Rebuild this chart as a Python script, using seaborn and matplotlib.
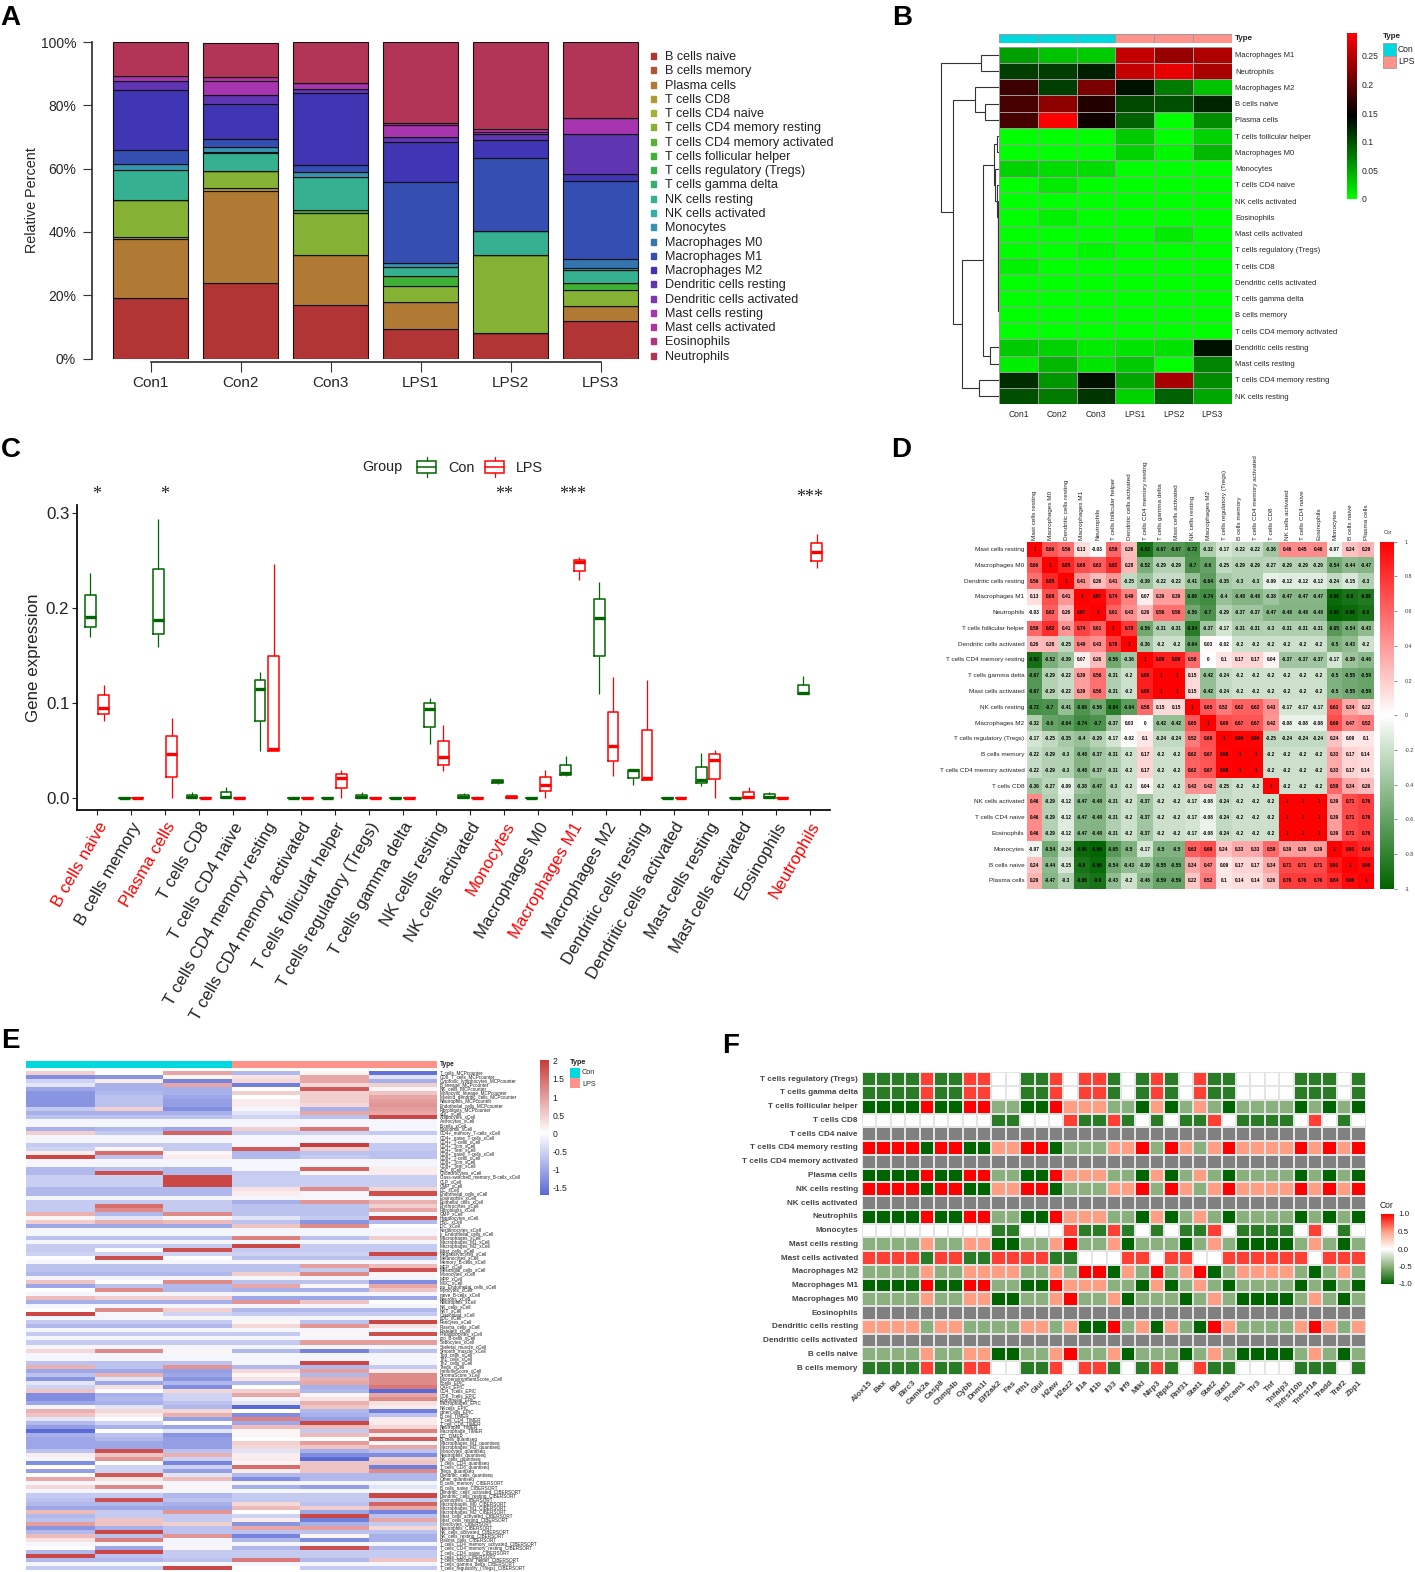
import numpy as np
import pandas as pd
import matplotlib
matplotlib.use("Agg")
import matplotlib.pyplot as plt
from matplotlib.colors import LinearSegmentedColormap, ListedColormap, TwoSlopeNorm
from matplotlib.patches import Rectangle
import seaborn as sns

W, H = 1415, 1572

# ---- A: relative percent per sample
samples = ["Con1", "Con2", "Con3", "LPS1", "LPS2", "LPS3"]
cells_a = ["B cells naive", "B cells memory", "Plasma cells", "T cells CD8", "T cells CD4 naive",
           "T cells CD4 memory resting", "T cells CD4 memory activated", "T cells follicular helper",
           "T cells regulatory (Tregs)", "T cells gamma delta", "NK cells resting", "NK cells activated",
           "Monocytes", "Macrophages M0", "Macrophages M1", "Macrophages M2", "Dendritic cells resting",
           "Dendritic cells activated", "Mast cells resting", "Mast cells activated", "Eosinophils", "Neutrophils"]
colors_a = ["#B13535", "#B1553A", "#B07A35", "#B09A35", "#A5B035", "#85B235", "#5CB035", "#3DB035",
            "#35B04D", "#35B070", "#35B090", "#35B0A8", "#3595B0", "#3575B0", "#354EB2", "#4035B2",
            "#5F35B2", "#7F35B2", "#A835B0", "#B035A0", "#B03580", "#B23558"]
con1 = [19.2, 0, 18.6, 0.7, 0, 11.5, 0, 0, 0, 0, 9.4, 0, 1.9, 0, 4.5, 19.0, 2.8, 0, 1.5, 0, 0, 10.9]
con2 = [23.7, 0, 29.2, 1.1, 0, 5.1, 0, 0, 0, 0, 5.7, 0.5, 1.5, 0, 2.6, 11.0, 2.9, 0, 4.5, 1.0, 0, 11.0]
con3 = [17.0, 0, 15.7, 0, 0, 13.3, 0, 0.8, 0, 0, 10.4, 0, 1.6, 0, 2.2, 22.8, 1.4, 0, 2.0, 0, 0, 12.8]
lps1 = [9.4, 0, 8.4, 0, 0, 5.2, 0, 3.0, 0, 0, 2.9, 0, 1.3, 0, 25.5, 12.7, 1.7, 0, 3.8, 0.4, 0, 25.7]
lps2 = [8.2, 0, 0, 0, 0, 24.5, 0, 0, 0, 0, 7.6, 0, 0, 0, 23.1, 5.5, 1.9, 0, 0.9, 0.7, 0, 27.6]
lps3 = [12.0, 0, 4.6, 0, 0, 5.0, 0, 2.3, 0, 0, 4.1, 0, 0.5, 3.0, 24.5, 2.2, 12.6, 0, 5.1, 0, 0, 24.1]

# ---- B: cell fractions, pheatmap order
rows_b = ["Macrophages M1", "Neutrophils", "Macrophages M2", "B cells naive", "Plasma cells",
          "T cells follicular helper", "Macrophages M0", "Monocytes", "T cells CD4 naive", "NK cells activated",
          "Eosinophils", "Mast cells activated", "T cells regulatory (Tregs)", "T cells CD8",
          "Dendritic cells activated", "T cells gamma delta", "B cells memory", "T cells CD4 memory activated",
          "Dendritic cells resting", "Mast cells resting", "T cells CD4 memory resting", "NK cells resting"]
vals_b = [[.055, .035, .03, .255, .23, .245],
          [.11, .11, .128, .257, .276, .241],
          [.18, .11, .215, .135, .075, .035],
          [.185, .225, .165, .105, .10, .125],
          [.185, .29, .155, .09, .0, .065],
          [0, 0, 0, .03, 0, .025],
          [0, 0, 0, .025, .005, .04],
          [.025, .02, .02, 0, 0, 0],
          [0, .012, .002, 0, 0, 0],
          [0, 0, 0, 0, 0, 0],
          [0, .008, 0, 0, 0, 0],
          [0, 0, 0, 0, .012, 0],
          [.002, 0, .006, 0, 0, 0],
          [.008, 0, 0, 0, 0, 0],
          [0, 0, 0, 0, 0, 0],
          [0, 0, 0, 0, 0, 0],
          [0, 0, 0, 0, 0, 0],
          [0, 0, 0, 0, 0, 0],
          [.03, .025, .012, .015, .018, .135],
          [.01, .04, .015, .03, 0, .07],
          [.12, .06, .135, .05, .24, .065],
          [.10, .075, .115, .025, .09, .05]]
# merge heights of the row dendrogram: (height, left, right)
den_chain = (5, 8, (4.5, 9, (4, 10, (3.5, 11, (3, 12, (2.5, 13, (2, 14, (1.5, 15, (1, 16, 17)))))))))
den_h = (15, (5, 5, 6), (13, 7, den_chain))
den_d = (110, (47, den_h, (28, 18, 19)), (60, 20, 21))
den_c = (73, 2, (42, 3, 4))
den_b = (173, (55, 0, 1), (138, den_c, den_d))

# ---- C: min, q1, median, q3, max per cell type
cells_c = ["B cells naive", "B cells memory", "Plasma cells", "T cells CD8", "T cells CD4 naive",
           "T cells CD4 memory resting", "T cells CD4 memory activated", "T cells follicular helper",
           "T cells regulatory (Tregs)", "T cells gamma delta", "NK cells resting", "NK cells activated",
           "Monocytes", "Macrophages M0", "Macrophages M1", "Macrophages M2", "Dendritic cells resting",
           "Dendritic cells activated", "Mast cells resting", "Mast cells activated", "Eosinophils", "Neutrophils"]
box_con = [[.169, .18, .191, .214, .237], [0, 0, 0, 0, 0], [.159, .173, .187, .241, .294],
           [0, .0005, .001, .003, .006], [0, 0, .001, .006, .012], [.049, .081, .115, .124, .133],
           [0, 0, 0, 0, 0], [0, 0, 0, 0, 0], [0, 0, .001, .003, .006], [0, 0, 0, 0, 0],
           [.057, .075, .094, .10, .105], [0, 0, .001, .003, .005], [.015, .016, .0175, .019, .02],
           [0, 0, 0, 0, 0], [.023, .024, .026, .035, .044], [.11, .15, .19, .209, .227],
           [.014, .021, .029, .03, .03], [0, 0, 0, 0, 0], [.013, .016, .019, .033, .047],
           [0, 0, 0, 0, 0], [0, 0, .001, .004, .006], [.109, .109, .111, .119, .128]]
box_lps = [[.081, .088, .095, .108, .119], [0, 0, 0, 0, 0], [0, .022, .046, .065, .084],
           [0, 0, 0, 0, 0], [0, 0, 0, 0, 0], [.05, .05, .052, .149, .246],
           [0, 0, 0, 0, 0], [0, .0105, .021, .0256, .03], [0, 0, 0, 0, 0], [0, 0, 0, 0, 0],
           [.028, .035, .043, .06, .077], [0, 0, 0, 0, 0], [0, 0, .001, .002, .003],
           [0, .007, .014, .022, .03], [.23, .239, .248, .251, .254], [.023, .039, .055, .091, .127],
           [.019, .019, .021, .072, .124], [0, 0, 0, 0, 0], [0, .02, .04, .046, .051],
           [0, 0, .001, .006, .012], [0, 0, 0, 0, 0], [.242, .25, .259, .268, .278]]
sig_c = {"B cells naive": "*", "Plasma cells": "*", "Monocytes": "**", "Macrophages M1": "***", "Neutrophils": "***"}

# ---- D: correlation of cell types
rows_d = ["Mast cells resting", "Macrophages M0", "Dendritic cells resting", "Macrophages M1", "Neutrophils",
          "T cells follicular helper", "Dendritic cells activated", "T cells CD4 memory resting",
          "T cells gamma delta", "Mast cells activated", "NK cells resting", "Macrophages M2",
          "T cells regulatory (Tregs)", "B cells memory", "T cells CD4 memory activated", "T cells CD8",
          "NK cells activated", "T cells CD4 naive", "Eosinophils", "Monocytes", "B cells naive", "Plasma cells"]
vals_d = [[1, .66, .56, .13, -.03, .59, .26, -.92, -.67, -.67, -.72, -.32, -.17, -.22, -.22, -.36, .46, .45, .46, -.07, .24, .29],
          [.66, 1, .85, .68, .63, .82, .28, -.52, -.29, -.29, -.7, -.6, -.25, -.29, -.29, -.27, -.29, -.29, -.29, -.54, -.44, -.47],
          [.56, .85, 1, .41, .26, .41, -.25, -.39, -.22, -.22, -.41, -.64, -.35, -.3, -.3, -.09, -.12, -.12, -.12, -.24, -.15, -.3],
          [.13, .68, .41, 1, .97, .74, .49, .07, .39, .39, -.69, -.74, -.4, -.48, -.48, -.38, -.47, -.47, -.47, -.96, -.9, -.86],
          [-.03, .63, .26, .97, 1, .61, .43, .26, .56, .56, -.56, -.7, -.29, -.37, -.37, -.47, -.48, -.48, -.48, -.99, -.96, -.9],
          [.59, .82, .41, .74, .61, 1, .78, -.56, -.31, -.31, -.84, -.37, -.17, -.31, -.31, -.3, -.31, -.31, -.31, -.65, -.54, -.43],
          [.26, .28, -.25, .49, .43, .78, 1, -.36, -.2, -.2, -.64, .03, -.02, -.2, -.2, -.2, -.2, -.2, -.2, -.5, -.43, -.2],
          [-.92, -.52, -.39, .07, .26, -.56, -.36, 1, .88, .88, .58, 0, .1, .17, .17, .04, -.37, -.37, -.37, -.17, -.39, -.46],
          [-.67, -.29, -.22, .39, .56, -.31, -.2, .88, 1, 1, .15, -.42, -.24, -.2, -.2, -.2, -.2, -.2, -.2, -.5, -.55, -.59],
          [-.67, -.29, -.22, .39, .56, -.31, -.2, .88, 1, 1, .15, -.42, -.24, -.2, -.2, -.2, -.2, -.2, -.2, -.5, -.55, -.59],
          [-.72, -.7, -.41, -.69, -.56, -.84, -.64, .58, .15, .15, 1, .65, .52, .62, .62, .43, -.17, -.17, -.17, .63, .34, .22],
          [-.32, -.6, -.64, -.74, -.7, -.37, .03, 0, -.42, -.42, .65, 1, .69, .67, .67, .42, -.08, -.08, -.08, .69, .47, .52],
          [-.17, -.25, -.35, -.4, -.29, -.17, -.02, .1, -.24, -.24, .52, .69, 1, .98, .98, -.25, -.24, -.24, -.24, .24, .09, .1],
          [-.22, -.29, -.3, -.48, -.37, -.31, -.2, .17, -.2, -.2, .62, .67, .98, 1, 1, -.2, -.2, -.2, -.2, .33, .17, .14],
          [-.22, -.29, -.3, -.48, -.37, -.31, -.2, .17, -.2, -.2, .62, .67, .98, 1, 1, -.2, -.2, -.2, -.2, .33, .17, .14],
          [-.36, -.27, -.09, -.38, -.47, -.3, -.2, .04, -.2, -.2, .43, .42, -.25, -.2, -.2, 1, -.2, -.2, -.2, .59, .34, .26],
          [.46, -.29, -.12, -.47, -.48, -.31, -.2, -.37, -.2, -.2, -.17, -.08, -.24, -.2, -.2, -.2, 1, 1, 1, .39, .71, .76],
          [.46, -.29, -.12, -.47, -.48, -.31, -.2, -.37, -.2, -.2, -.17, -.08, -.24, -.2, -.2, -.2, 1, 1, 1, .39, .71, .76],
          [.46, -.29, -.12, -.47, -.48, -.31, -.2, -.37, -.2, -.2, -.17, -.08, -.24, -.2, -.2, -.2, 1, 1, 1, .39, .71, .76],
          [-.07, -.54, -.24, -.96, -.99, -.65, -.5, -.17, -.5, -.5, .63, .69, .24, .33, .33, .59, .39, .39, .39, 1, .91, .84],
          [.24, -.44, -.15, -.9, -.96, -.54, -.43, -.39, -.55, -.55, .34, .47, .09, .17, .17, .34, .71, .71, .71, .91, 1, .96],
          [.29, -.47, -.3, -.86, -.9, -.43, -.2, -.46, -.59, -.59, .22, .52, .1, .14, .14, .26, .76, .76, .76, .84, .96, 1]]

# ---- E: scores per method
names_mcp = ["T_cells", "CD8_T_cells", "Cytotoxic_lymphocytes", "B_lineage", "NK_cells", "Monocytic_lineage",
             "Myeloid_dendritic_cells", "Neutrophils", "Endothelial_cells", "Fibroblasts"]
vals_mcp = [[.5, 0, .9, -.8, .1, -1.6], [-1.3, -1.2, .1, .3, .9, -.3], [-.5, .2, -1.4, .4, .9, -.9],
            [-.3, -.9, .9, -1.45, .4, .5], [-1, -.9, -.9, 0, 1.7, .1], [-1.2, -.8, -.9, .5, .5, .6],
            [-1.2, -.7, -1, 0, .5, .9], [-1.2, -.7, -1.1, .2, .5, 1.0], [-1.2, -.7, -1.1, .2, .4, 1.1],
            [-.6, .5, -1.3, -.1, -.9, 1.0]]
names_xcell = ["aDC", "Adipocytes", "Astrocytes", "B-cells", "Basophils", "CD4+_memory_T-cells", "CD4+_naive_T-cells",
               "CD4+_T-cells", "CD4+_Tcm", "CD4+_Tem", "CD8+_naive_T-cells", "CD8+_T-cells", "CD8+_Tcm", "CD8+_Tem",
               "cDC", "Chondrocytes", "Class-switched_memory_B-cells", "CLP", "CMP", "DC", "Endothelial_cells",
               "Eosinophils", "Epithelial_cells", "Erythrocytes", "Fibroblasts", "GMP", "Hepatocytes", "HSC", "iDC",
               "Keratinocytes", "ly_Endothelial_cells", "Macrophages", "Macrophages_M1", "Macrophages_M2", "Mast_cells",
               "Megakaryocytes", "Melanocytes", "Memory_B-cells", "MEP", "Mesangial_cells", "Monocytes", "MPP", "MSC",
               "mv_Endothelial_cells", "Myocytes", "naive_B-cells", "Neurons", "Neutrophils", "NK_cells", "NKT",
               "Osteoblast", "pDC", "Pericytes", "Plasma_cells", "Platelets", "Preadipocytes", "pro_B-cells", "Sebocytes",
               "Skeletal_muscle", "Smooth_muscle", "Tgd_cells", "Th1_cells", "Th2_cells", "Tregs", "ImmuneScore",
               "StromaScore", "MicroenvironmentScore"]
vals_xcell = [[-.9, -.9, -.9, -.3, .9, .9], [-.7, -.7, -.7, -.5, -.7, 1.9], [-.1, -.1, -.1, -.1, -.1, -.1],
              [-.1, -.1, -.1, -.1, -.1, -.1], [-.9, -.8, -1, .5, 1.4, -.1], [.5, -.6, 1.6, -.6, -.5, -.6],
              [-.1, -.1, -.1, -.1, -.1, -.1], [-.1, -.1, -.1, -.1, -.1, -.1], [-.6, -.6, -.6, -.1, 2, -.6],
              [-.5, .1, -.6, 1.7, .5, -.6], [.2, 1.5, .1, -.8, -.7, -.7], [1.9, -.7, .2, -.8, -.6, -.7],
              [-.1, -.1, -.1, -.1, -.1, -.1], [-.1, -.1, -.1, -.1, -.1, -.1], [-.8, -.7, -.8, -.1, 1.6, .2],
              [-.8, 1.8, -.8, -.6, .1, .2], [-.55, -.55, 1.9, -.55, -.55, -.55], [-.55, -.55, 1.9, -.55, -.55, -.55],
              [-.55, -.55, 1.9, -.55, -.55, -.55], [-.8, -.8, -.8, .3, 1.2, .4], [-.8, -.8, -.8, .2, -.1, 1.8],
              [-.1, -.1, -.1, -.1, -.1, -.1], [-.6, -.6, -.6, -.9, 1.1, .8], [-.6, 1.5, -.6, -.7, -.7, .5],
              [-.6, 1.2, -.6, -.7, -.7, .9], [.8, -.8, 1.2, -.7, -.7, -.1], [.1, -.3, .1, -.3, -.6, 1.9],
              [.5, .8, .7, -.7, -1.2, -.8], [-1, -1, -1, .6, 1.2, 0], [-.1, -.1, -.1, -.1, -.1, -.1],
              [-.1, -.1, -.1, -.1, -.1, -.1], [-.7, -.7, -.7, 1.3, -.7, .5], [-.1, -.1, -.1, -.1, -.1, -.1],
              [-.6, -.6, -.6, 1.9, -.6, -.6], [-.6, 0, 1.8, -.6, -.6, -.6], [-.5, -.5, -.5, -.5, -.5, 1.9],
              [0, 1.8, 0, -.7, -.7, -.7], [-.1, -.1, -.1, -.1, -.1, -.1], [-.7, -.7, -.7, -.7, 1.0, .7],
              [-.7, -.7, -.7, -.7, -.6, 1.8], [-.8, -.8, -.8, .5, 1.2, .1], [-.1, -.1, -.1, -.1, -.1, -.1],
              [.6, 0, 1.2, -.7, -.7, -1.3], [-1, -.7, -.8, .9, .1, .9], [0, 1.2, -.8, -.9, -.9, .6],
              [-.1, -.1, -.1, -.1, -.1, -.1], [.7, .5, .5, -1, -1, -1], [-.9, -.9, -.9, 1.1, .6, 0],
              [-.1, -.1, -.1, -.1, -.1, -.1], [0, 1.2, .5, -.8, -.8, -.8], [1.9, -.1, -.5, -.6, -.6, -.6],
              [-.1, -.1, -.1, -.1, -.1, -.1], [-.6, -.6, -.6, .1, -.7, 1.9], [-.8, -.8, -.8, .4, 1.1, .3],
              [-.1, -.1, -.1, -.1, -.1, -.1], [-.6, -.6, -.6, -.6, .1, 1.8], [-.1, -.1, -.1, -.1, -.1, -.1],
              [-.6, -.6, -.6, -.6, 1.0, 1.0], [-.1, -.1, -.1, -.1, -.1, -.1], [.4, 1.2, .1, -.8, -1.4, -.7],
              [-.1, -.1, -.1, -.1, -.1, -.1], [-.1, -.1, -.1, -.1, -.1, -.1], [-.7, -.7, -.7, -.1, 1.9, -.1],
              [.8, -.7, 1.1, -.8, -.8, -.6], [-1, -1, -1.1, .4, 1.0, .2], [-.7, .8, -1, .1, -.8, 1.2],
              [-1.2, -.3, -1.2, .3, .8, 1.2]]
names_epic = ["Bcells", "CAFs", "CD4_Tcells", "CD8_Tcells", "Endothelial", "Macrophages", "NKcells", "otherCells"]
vals_epic = [[-.3, -1, -.8, -.8, .9, 1.2], [-.5, .3, -1.3, 0, -.9, 1.4], [.6, 0, .4, .5, -.8, -1.7],
             [-1.3, -.9, -.5, .9, .1, .9], [-1.3, -.8, -.5, -.1, .3, 1.2], [-1, -.9, -.7, -.3, .8, .3],
             [-.1, -.3, -.8, -1.7, .6, .2], [.8, .4, .4, 0, -.8, -1.45]]
names_timer = ["B_cell", "T_cell_CD4", "T_cell_CD8", "Neutrophil", "Macrophage", "DC"]
vals_timer = [[.6, .2, .8, -1.3, -.9, -.7], [-.3, 0, -1.1, 1.3, -1.1, .2], [-.8, -.5, 0, -1, 1.9, .2],
              [-1.1, -.9, -1, .7, .7, .4], [-1.7, 0, -.3, .1, -.6, 1.3], [-.9, -.7, -1.2, .1, .7, .2]]
names_quant = ["B_cells", "Macrophages_M1", "Macrophages_M2", "Monocytes", "Neutrophils", "NK_cells", "T_cells_CD4",
               "T_cells_CD8", "Tregs", "Dendritic_cells", "Other"]
vals_quant = [[-1, -.8, -1.1, 0, 0, 1.7], [-1, -1, -1.1, .5, 1.0, .1], [-1, -1, -1.1, .4, .6, .9],
              [-.7, 1.8, -.7, -.3, -.9, -.7], [.2, .6, .8, .2, -1.3, -1.3], [-.1, 1.1, -.5, .2, -1.7, .5],
              [-1.3, 0, -1.4, .1, .6, .6], [0, -.5, -.5, 1.5, .6, -1.45], [-1.1, -.5, -1.1, .2, .6, 1.2],
              [0, 1.7, -.3, -.8, -.8, -.8], [.9, .3, .7, -1.3, -.8, -.8]]
names_ciber = ["B_cells_memory", "B_cells_naive", "Dendritic_cells_activated", "Dendritic_cells_resting", "Eosinophils",
               "Macrophages_M0", "Macrophages_M1", "Macrophages_M2", "Mast_cells_activated", "Mast_cells_resting",
               "Monocytes", "Neutrophils", "NK_cells_activated", "NK_cells_resting", "Plasma_cells",
               "T_cells_CD4_memory_activated", "T_cells_CD4_memory_resting", "T_cells_CD4_naive", "T_cells_CD8",
               "T_cells_follicular_helper", "T_cells_gamma_delta", "T_cells_regulatory_(Tregs)"]
vals_ciber = [[-.1, -.1, -.1, -.1, -.1, -.1], [.4, 1.2, .1, -.9, -1.1, -.3], [-.1, -.1, -.1, -.1, -.1, -.1],
              [-.6, -.6, -.8, -.6, -.6, 1.9], [-.7, 1.8, -.7, -.6, -.6, -.6], [-.8, -.8, -.9, .4, -.7, 1.6],
              [-1, -1, -1, .7, .5, .9], [.7, -.6, 1.1, 0, -1, -1.4], [-.8, -.6, -.6, -.5, 1.9, -.7],
              [-.7, .6, -.6, .2, -1.45, .9], [1.0, .6, .5, -1.2, -.9, -.6], [-1.2, -.9, -.7, .9, 1.0, .4],
              [-.8, 1.9, -.7, -.7, -.7, -.7], [.7, -.7, 1.1, -1.4, .1, -.9], [.3, 1.3, -.1, -.8, -1.3, -.9],
              [-.1, -.1, -.1, -.1, -.1, -.1], [0, -1, .1, -.8, 1.8, -.8], [-.8, 1.9, -.6, -.6, -.6, -.6],
              [1.9, -.7, -.6, -.6, -.6, -.6], [-.8, -.8, -.7, 1.4, -.8, .6], [-.1, -.1, -.1, -.1, -.1, -.1],
              [-.6, -.6, 1.9, 0, -.6, -.6]]

# ---- F: gene vs cell type correlation, many rows repeat
genes_f = ["Alox15", "Bax", "Bid", "Birc3", "Camk2a", "Casp8", "Chmp4b", "Cybb", "Dnm1l", "Eif2ak2", "Fas", "Fth1",
           "Glul", "H2aw", "H2az2", "Il1a", "Il1b", "Il33", "Irf9", "Mlkl", "Nlrp3", "Ripk3", "Rnf31", "Stat1", "Stat2",
           "Stat3", "Ticam1", "Tlr3", "Tnf", "Tnfaip3", "Tnfrsf10b", "Tnfrsf1a", "Tradd", "Traf2", "Zbp1"]
f_treg = [-.85, -.85, -.85, -.85, .8, -.85, -.85, .8, .8, 0, 0, -.85, -.85, .8, 0, .8, .8, -.85, 0, -.85, .8, -.85, 0, .8, -.85, -.85, 0, 0, 0, 0, -.85, -.85, -.85, 0, -.85]
f_tfh = [-1, -1, -1, -1, 1, -1, -1, 1, 1, -.5, -.5, -1, -1, 1, .5, .5, .5, -.5, -.5, -1, .5, -1, -.5, .5, -.5, -1, -.5, -.5, -.5, -.5, -1, -.5, -1, -.5, -1]
f_cd8 = [0, 0, 0, 0, 0, 0, 0, 0, 0, -.85, -.85, 0, 0, 0, .8, -.85, -.85, .8, -.85, 0, -.85, 0, -.85, -.85, .8, 0, -.85, -.85, -.85, -.85, 0, .8, 0, -.85, 0]
f_cd4mr = [1, 1, 1, 1, -1, 1, 1, -1, -1, .5, .5, 1, 1, -1, -.5, -.5, -.5, .5, .5, 1, -.5, 1, .5, -.5, .5, 1, .5, .5, .5, .5, 1, .5, 1, .5, 1]
f_mastr = [-.5, -.5, -.5, -.5, .5, -.5, -.5, .5, .5, -1, -1, -.5, -.5, .5, 1, -.5, -.5, .5, -1, -.5, -.5, -.5, -1, -.5, .5, -.5, -1, -1, -1, -1, -.5, .5, -.5, -1, -.5]
f_masta = [.8, .8, .8, .8, -.85, .8, .8, -.85, -.85, .8, .8, .8, .8, -.85, -.85, 0, 0, 0, .8, .8, 0, .8, .8, 0, 0, .8, .8, .8, .8, .8, .8, 0, .8, .8, .8]
f_m2 = [-.5, -.5, -.5, -.5, .5, -.5, -.5, .5, .5, .5, .5, -.5, -.5, .5, -.5, 1, 1, -1, .5, -.5, 1, -.5, .5, 1, -1, -.5, .5, .5, .5, .5, -.5, -1, -.5, .5, -.5]
f_dcr = [.5, .5, .5, .5, -.5, .5, .5, -.5, -.5, -.5, -.5, .5, .5, -.5, .5, -1, -1, 1, -.5, .5, -1, .5, -.5, -1, 1, .5, -.5, -.5, -.5, -.5, .5, 1, .5, -.5, .5]
f_none = [np.nan] * 35
rows_f = ["T cells regulatory (Tregs)", "T cells gamma delta", "T cells follicular helper", "T cells CD8",
          "T cells CD4 naive", "T cells CD4 memory resting", "T cells CD4 memory activated", "Plasma cells",
          "NK cells resting", "NK cells activated", "Neutrophils", "Monocytes", "Mast cells resting",
          "Mast cells activated", "Macrophages M2", "Macrophages M1", "Macrophages M0", "Eosinophils",
          "Dendritic cells resting", "Dendritic cells activated", "B cells naive", "B cells memory"]
vals_f = [f_treg, f_treg, f_tfh, f_cd8, f_none, f_cd4mr, f_none, f_tfh, f_cd4mr, f_none, f_tfh, f_cd8, f_mastr,
          f_masta, f_m2, f_tfh, f_mastr, f_none, f_dcr, f_none, f_mastr, f_treg]

CON, LPS = "#00D8E0", "#FF9289"

sns.set_theme(style="white")
plt.rcParams["font.family"] = ["Liberation Sans", "DejaVu Sans"]
plt.rcParams["axes.unicode_minus"] = False

fig = plt.figure(figsize=(W / 100, H / 100), dpi=100)


def axpx(left, top, right, bottom):
    # axes from pixel box
    return fig.add_axes([left / W, 1 - bottom / H, (right - left) / W, (bottom - top) / H])


# overlay in pixel coordinates for letters and legends
ov = axpx(0, 0, W, H)
ov.set_xlim(0, W)
ov.set_ylim(H, 0)
ov.axis("off")
ov.set_zorder(10)
ov.patch.set_alpha(0)

for letter, x, y in [("A", 0, 18), ("B", 892, 18), ("C", 1, 450), ("D", 891, 450), ("E", 1, 1041), ("F", 722, 1046)]:
    ov.text(x, y, letter, fontsize=20, fontweight="bold", va="center", ha="left", color="black")

# ---------------- A
long_a = pd.DataFrame({"cell": np.tile(cells_a, 6),
                       "sample": np.repeat(samples, 22),
                       "pct": con1 + con2 + con3 + lps1 + lps2 + lps3})
ax = axpx(92, 42, 650, 358.5)
sns.histplot(data=long_a, x="sample", weights="pct", hue="cell", hue_order=cells_a[::-1], multiple="stack",
             discrete=True, shrink=0.833, palette=dict(zip(cells_a, colors_a)), alpha=1,
             edgecolor="#111111", linewidth=0.8, legend=False, ax=ax)
ax.set_xlim((92 - 150.5) / 90, (650 - 150.5) / 90)
ax.set_ylim(0, 100)
ax.set_yticks([0, 20, 40, 60, 80, 100], ["0%", "20%", "40%", "60%", "80%", "100%"], fontsize=10)
ax.set_xticks(range(6), samples, fontsize=10.4)
ax.tick_params(axis="y", left=True, length=6.5, width=0.8, color="#333333", pad=5)
ax.tick_params(axis="x", bottom=True, length=7, width=0.8, color="#333333", pad=3)
ax.set_xlabel("")
ax.set_ylabel("Relative Percent", fontsize=10.4, labelpad=1)
sns.despine(ax=ax, right=True, top=True)
ax.spines["left"].set_color("#333333")
ax.spines["bottom"].set_color("#333333")
ax.spines["bottom"].set_position(("outward", 2.6))
ax.spines["bottom"].set_bounds(0, 5)
ax.patch.set_alpha(0)

for i, (name, col) in enumerate(zip(cells_a, colors_a)):
    y = 56 + i * 14.27
    ov.add_patch(Rectangle((651, y - 3), 5, 6, color=col))
    ov.text(665, y + 1, name, fontsize=9.05, va="center", color="#222222")

# ---------------- B
ax = axpx(999, 46.7, 1231.6, 404.3)
cmap_b = LinearSegmentedColormap.from_list("b", ["#00FF00", "black", "#FF0000"])
cax = axpx(1347, 33, 1357, 199)
sns.heatmap(pd.DataFrame(vals_b, index=rows_b, columns=samples), ax=ax, cmap=cmap_b, vmin=0, vmax=.29, linewidths=0.6,
            linecolor="#9a9a9a", xticklabels=1, yticklabels=1, cbar_ax=cax, cbar_kws={"ticks": [0, .05, .1, .15, .2, .25]})
ax.yaxis.tick_right()
ax.tick_params(axis="y", length=0, labelsize=5.5, labelrotation=0, pad=2.5)
ax.tick_params(axis="x", length=0, labelsize=6.2, labelrotation=0, pad=4)
cax.set_yticklabels(["0", "0.05", "0.1", "0.15", "0.2", "0.25"])
cax.tick_params(length=0, labelsize=6.2, pad=3)
for s in cax.spines.values():
    s.set_visible(False)

ax = axpx(999, 34.3, 1231.6, 43.3)
sns.heatmap([[0, 0, 0, 1, 1, 1]], ax=ax, cmap=ListedColormap([CON, LPS]), cbar=False, linewidths=0.6,
            linecolor="#9a9a9a", xticklabels=False, yticklabels=False)
ov.text(1235, 39, "Type", fontsize=5.8, fontweight="bold", va="center", color="#222222")

ax = axpx(938, 46.7, 999, 404.3)
ax.set_xlim(61 * 3, 0)
ax.set_ylim(22, 0)
ax.axis("off")


def draw_den(node):
    # leaf rows sit at index + .5, returns (y, height)
    if not isinstance(node, tuple):
        return node + 0.5, 0
    h, a, b = node
    ya, ha = draw_den(a)
    yb, hb = draw_den(b)
    ax.plot([ha, h, h, hb], [ya, ya, yb, yb], color="#333333", lw=0.8, solid_joinstyle="miter")
    return (ya + yb) / 2, h


draw_den(den_b)

ov.text(1383, 37, "Type", fontsize=5.8, fontweight="bold", va="center", color="#222222")
ov.add_patch(Rectangle((1383, 42.7), 13, 12.8, fc=CON, ec="#9a9a9a", lw=0.6))
ov.add_patch(Rectangle((1383, 55.5), 13, 12.8, fc=LPS, ec="#9a9a9a", lw=0.6))
ov.text(1398, 49, "Con", fontsize=6.2, va="center", color="#222222")
ov.text(1398, 62, "LPS", fontsize=6.2, va="center", color="#222222")

# ---------------- C
long_c = pd.DataFrame({"cell": np.repeat(cells_c * 2, 5),
                       "group": np.repeat(["Con", "LPS"], 110),
                       "value": np.ravel(box_con + box_lps)})
ax = axpx(77, 505, 830, 810)
sns.boxplot(data=long_c, x="cell", y="value", hue="group", order=cells_c, palette={"Con": "darkgreen", "LPS": "red"},
            fill=False, width=0.8, gap=0.2, whis=(0, 100), showcaps=False, fliersize=0, linewidth=1.1,
            medianprops={"linewidth": 2.4}, whiskerprops={"linewidth": 0.9}, legend=False, ax=ax)
ax.set_xlim((77 - 97) / 33.95, (830 - 97) / 33.95)
ax.set_ylim(-12 / 950, 293 / 950)
ax.set_yticks([0, .1, .2, .3], ["0.0", "0.1", "0.2", "0.3"], fontsize=12.2)
ax.set_xticks(range(22))
ax.set_xticklabels(cells_c, fontsize=12.2, rotation=60, ha="right", rotation_mode="anchor")
for lab in ax.get_xticklabels():
    lab.set_color("red" if lab.get_text() in sig_c else "#222222")
ax.tick_params(axis="both", left=True, bottom=True, length=3.5, width=0.8, color="#222222")
ax.tick_params(axis="y", labelcolor="#222222", pad=2)
ax.set_xlabel("")
ax.set_ylabel("Gene expression", fontsize=12.2, labelpad=3.5, color="#222222")
sns.despine(ax=ax)
ax.spines["left"].set_color("black")
ax.spines["bottom"].set_color("black")
ax.patch.set_alpha(0)
for name, stars in sig_c.items():
    y_star = 1.023 if name == "Neutrophils" else 1.033
    ax.text(cells_c.index(name), y_star, stars, transform=ax.get_xaxis_transform(), ha="center", va="center",
            fontsize=13, family="Liberation Serif", color="#222222")

ov.text(362, 467.5, "Group", fontsize=10.4, va="center", color="#222222")
ov.text(448, 468, "Con", fontsize=10.4, va="center", color="#222222")
ov.text(516, 468, "LPS", fontsize=10.4, va="center", color="#222222")
for x0, col in [(417, "darkgreen"), (485, "red")]:
    ov.plot([x0 + 9.5, x0 + 9.5], [457, 477], color=col, lw=0.9)
    ov.add_patch(Rectangle((x0, 461), 19, 12, fc="white", ec=col, lw=1.1, zorder=3))
    ov.plot([x0, x0 + 19], [467, 467], color=col, lw=1.1, zorder=4)

# ---------------- D
ax = axpx(1026.7, 541.7, 1374, 888.7)
cmap_d = LinearSegmentedColormap.from_list("d", ["#006400", "white", "#FF0000"])
cax = axpx(1380, 541.7, 1393.7, 888.7)
sns.heatmap(pd.DataFrame(vals_d, index=rows_d, columns=rows_d), ax=ax, cmap=cmap_d, vmin=-1, vmax=1, annot=True, fmt="g",
            annot_kws={"size": 3.4, "weight": "bold", "color": "black"}, xticklabels=1, yticklabels=1, cbar_ax=cax,
            cbar_kws={"ticks": np.arange(-10, 11, 2) / 10})
ax.xaxis.tick_top()
ax.tick_params(axis="x", length=0, labelsize=4.6, labelrotation=90, pad=1.5)
ax.tick_params(axis="y", length=0, labelsize=4.6, labelrotation=0, pad=1.5)
cax.set_yticklabels(["-1", "-0.8", "-0.6", "-0.4", "-0.2", "0", "0.2", "0.4", "0.6", "0.8", "1"])
cax.tick_params(length=2, width=0.4, labelsize=3.8, pad=6, colors="#333333")
ov.text(1384, 533, "Cor", fontsize=3.8, va="center", color="#333333")

# ---------------- E
vals_e = vals_mcp + vals_xcell + vals_epic + vals_timer + vals_quant + vals_ciber
names_e = ([n + "_MCPcounter" for n in names_mcp] + [n + "_xCell" for n in names_xcell] +
           [n + "_EPIC" for n in names_epic] + [n + "_TIMER" for n in names_timer] +
           [n + "_quantiseq" for n in names_quant] + [n + "_CIBERSORT" for n in names_ciber])
ax = axpx(26, 1070.7, 437, 1570)
cmap_e = LinearSegmentedColormap.from_list("e", ["#5A6AD6", "white", "#C83C3A"])
cax = axpx(540, 1060, 548.6, 1195)
sns.heatmap(pd.DataFrame(vals_e, index=range(len(vals_e))), ax=ax, cmap=cmap_e,
            norm=TwoSlopeNorm(0, -1.7, 2.02), cbar_ax=cax, xticklabels=False,
            yticklabels=names_e, cbar_kws={"ticks": [-1.5, -1, -.5, 0, .5, 1, 1.5, 2]})
ax.yaxis.tick_right()
ax.tick_params(axis="y", length=0, labelsize=3.35, labelrotation=0, pad=2, labelcolor="#222222")
cax.set_yscale("linear")
cax.set_yticks([-1.5, -1, -.5, 0, .5, 1, 1.5, 2], ["-1.5", "-1", "-0.5", "0", "0.5", "1", "1.5", "2"])
cax.minorticks_off()
cax.tick_params(length=0, labelsize=6.2, pad=3, labelcolor="#222222")

ax = axpx(26, 1061, 437, 1068)
sns.heatmap([[0, 0, 0, 1, 1, 1]], ax=ax, cmap=ListedColormap([CON, LPS]), cbar=False, xticklabels=False, yticklabels=False)
ov.text(440, 1064.5, "Type", fontsize=4.7, fontweight="bold", va="center", color="#222222")
ov.text(570, 1063, "Type", fontsize=5.2, fontweight="bold", va="center", color="#222222")
ov.add_patch(Rectangle((570, 1068), 10, 10, fc=CON, lw=0))
ov.add_patch(Rectangle((570, 1078), 10, 10, fc=LPS, lw=0))
ov.text(582, 1073, "Con", fontsize=5.2, va="center", color="#222222")
ov.text(582, 1084, "LPS", fontsize=5.2, va="center", color="#222222")

# ---------------- F
ax = axpx(862, 1072.3, 1365.6, 1375)
ax.set_facecolor("#808080")
cmap_f = LinearSegmentedColormap.from_list("f", [(0, "#006400"), (.25, "#8AB07C"), (.5, "white"), (.75, "#FFA084"), (1, "#FF0000")])
cax = axpx(1381, 1214, 1394, 1284)
sns.heatmap(pd.DataFrame(vals_f, index=rows_f, columns=genes_f), ax=ax, cmap=cmap_f, vmin=-1, vmax=1, linewidths=0.1,
            linecolor="#E4E4E4", xticklabels=1, yticklabels=1, cbar_ax=cax, cbar_kws={"ticks": [-1, -.5, 0, .5, 1]})
ax.tick_params(axis="y", length=0, labelsize=5.9, labelrotation=0, pad=3, labelcolor="#444444")
ax.set_yticklabels(rows_f, fontweight="bold")
ax.set_xticklabels(genes_f, fontweight="bold", fontsize=5.9, rotation=45, ha="right", rotation_mode="anchor", color="#444444")
ax.tick_params(axis="x", length=0, pad=3)
cax.set_yticklabels(["-1.0", "-0.5", "0.0", "0.5", "1.0"])
cax.tick_params(length=0, labelsize=5.8, pad=3, labelcolor="#222222")
ov.text(1380, 1205, "Cor", fontsize=6.2, va="center", color="#222222")

fig.savefig("out.png", dpi=100, facecolor="white")
